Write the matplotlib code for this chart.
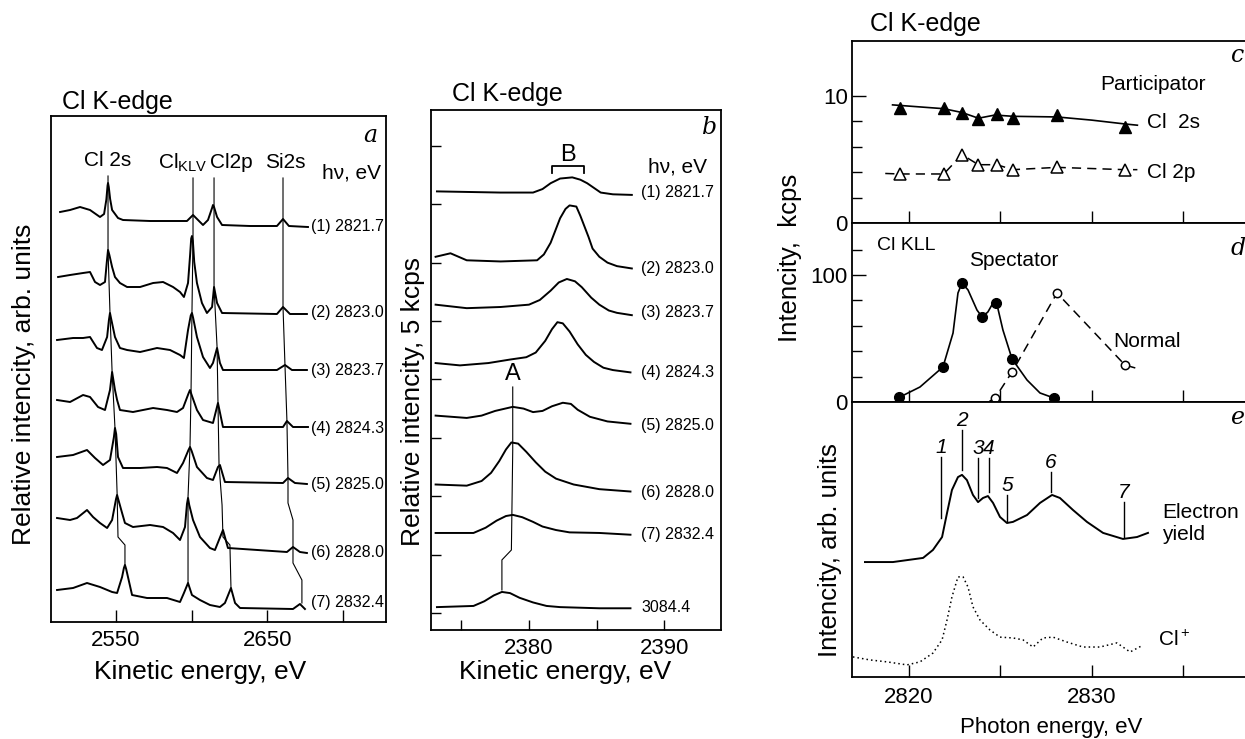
import matplotlib
matplotlib.use('Agg')
import matplotlib.pyplot as plt

plt.rcParams['font.family'] = ['Liberation Sans', 'DejaVu Sans']
plt.rcParams['mathtext.fontset'] = 'custom'
plt.rcParams['mathtext.rm'] = 'Liberation Sans'
plt.rcParams['mathtext.it'] = 'Liberation Sans:italic'

W, H = 1245, 739

# ---- panel a: resonant Auger spectra, stacked (arb. units) ----
a_hv = ['(1) 2821.7', '(2) 2823.0', '(3) 2823.7', '(4) 2824.3',
        '(5) 2825.0', '(6) 2828.0', '(7) 2832.4']
a_energy = [
    [2513.0, 2519.6, 2526.2, 2532.8, 2539.4, 2542.1, 2543.6, 2544.4, 2544.7, 2545.2, 2546.1, 2547.4,
     2551.3, 2554.6, 2572.5, 2596.9, 2600.9, 2604.2, 2607.5, 2610.8, 2613.5, 2614.1, 2614.8, 2616.8,
     2620.1, 2638.6, 2656.4, 2660.4, 2664.3, 2676.9],
    [2511.7, 2519.6, 2528.2, 2532.8, 2536.1, 2539.4, 2542.7, 2543.9, 2544.7, 2545.6, 2547.4, 2549.3,
     2552.6, 2557.3, 2565.9, 2574.5, 2581.1, 2587.7, 2592.3, 2594.9, 2597.6, 2599.0, 2599.7, 2600.2,
     2600.8, 2601.7, 2603.5, 2606.8, 2610.1, 2613.5, 2614.8, 2616.8, 2620.1, 2656.4, 2660.4, 2665.0,
     2676.2],
    [2511.0, 2521.6, 2528.2, 2532.8, 2537.4, 2540.7, 2544.1, 2545.3, 2546.0, 2546.8, 2549.3, 2552.6,
     2557.3, 2565.9, 2577.1, 2585.7, 2592.3, 2594.9, 2597.6, 2599.4, 2600.2, 2601.0, 2603.5, 2607.5,
     2612.1, 2614.1, 2616.8, 2618.7, 2620.7, 2656.4, 2661.7, 2666.3, 2676.2],
    [2511.0, 2519.6, 2528.2, 2532.8, 2538.1, 2542.7, 2546.0, 2547.4, 2549.3, 2550.7, 2552.6, 2561.2,
     2574.5, 2583.7, 2590.3, 2594.3, 2597.8, 2598.9, 2600.0, 2603.5, 2607.5, 2614.1, 2617.4, 2620.7,
     2660.4, 2663.0, 2667.0, 2676.9],
    [2511.0, 2521.6, 2530.8, 2536.1, 2541.4, 2546.0, 2548.6, 2549.3, 2550.1, 2551.3, 2554.6, 2565.9,
     2577.1, 2583.7, 2590.3, 2594.3, 2597.9, 2598.9, 2600.0, 2603.5, 2610.1, 2614.1, 2617.4, 2618.7,
     2622.0, 2660.4, 2663.7, 2668.3, 2676.2],
    [2511.0, 2519.6, 2524.2, 2530.8, 2534.8, 2539.4, 2544.1, 2547.4, 2550.0, 2550.7, 2551.6, 2554.0,
     2555.9, 2561.2, 2572.5, 2581.1, 2587.7, 2592.3, 2595.6, 2596.9, 2597.6, 2598.4, 2600.9, 2605.5,
     2612.1, 2615.4, 2620.7, 2624.0, 2663.0, 2667.0, 2671.6, 2676.2],
    [2511.0, 2521.6, 2530.8, 2539.4, 2547.4, 2550.7, 2554.0, 2555.2, 2555.9, 2556.7, 2557.9, 2560.6,
     2570.5, 2583.7, 2592.3, 2594.9, 2597.6, 2600.2, 2605.5, 2612.1, 2618.7, 2622.0, 2626.0, 2628.7,
     2632.0, 2667.0, 2671.6, 2674.9],
]
a_int = [
    [82.0, 82.4, 83.0, 82.4, 81.0, 81.6, 84.5, 87.3, 87.8, 87.0, 84.6, 82.4,
     80.8, 80.4, 80.2, 80.2, 81.4, 80.4, 79.4, 80.4, 82.8, 83.4, 83.0, 81.0,
     79.4, 79.2, 79.2, 80.6, 79.2, 79.0],
    [69.0, 69.4, 69.8, 70.0, 68.0, 67.4, 68.0, 72.0, 74.4, 73.4, 71.0, 69.0,
     67.8, 67.0, 67.0, 67.8, 68.0, 67.0, 66.0, 65.0, 67.8, 73.5, 76.7, 77.2,
     76.2, 72.0, 67.8, 63.8, 61.8, 63.0, 67.0, 63.8, 61.8, 61.6, 63.0, 61.6,
     61.6],
    [56.4, 56.8, 56.8, 57.0, 54.8, 54.4, 57.0, 60.4, 61.8, 60.6, 57.0, 54.8,
     54.4, 54.0, 54.8, 54.4, 53.4, 52.8, 58.4, 61.3, 61.8, 60.8, 57.0, 53.0,
     50.8, 51.8, 54.8, 51.8, 50.4, 50.4, 51.4, 50.4, 50.4],
    [44.4, 44.0, 45.4, 45.0, 43.0, 42.4, 46.4, 50.0, 46.4, 44.4, 42.4, 42.0,
     42.8, 42.4, 42.0, 42.8, 45.6, 46.4, 45.4, 42.4, 40.4, 39.8, 43.8, 39.0,
     39.0, 40.2, 39.0, 39.0],
    [33.0, 33.4, 34.4, 32.8, 31.4, 32.4, 37.0, 38.8, 37.6, 33.0, 30.8, 30.8,
     31.0, 30.8, 29.8, 31.8, 34.4, 35.0, 34.2, 31.0, 28.8, 28.4, 31.0, 31.4,
     28.0, 27.8, 28.8, 27.8, 27.6],
    [20.8, 20.4, 20.8, 22.4, 21.0, 19.8, 18.8, 20.4, 24.6, 25.4, 24.4, 21.8,
     19.8, 19.0, 19.4, 19.0, 17.8, 16.4, 19.0, 23.6, 24.8, 23.4, 20.4, 17.0,
     14.8, 14.4, 18.4, 14.8, 14.0, 15.0, 14.0, 13.8],
    [6.4, 6.8, 7.8, 7.0, 6.0, 5.8, 9.0, 10.8, 11.4, 10.6, 9.0, 5.4,
     4.8, 4.8, 4.0, 5.8, 7.8, 5.4, 4.4, 3.4, 3.0, 3.8, 6.8, 3.8,
     2.8, 2.6, 3.6, 2.6],
]
# peak guide lines in panel a
a_guide_energy = [
    [2544.7, 2544.7, 2546.0, 2547.4, 2549.3, 2550.7, 2551.3, 2555.9, 2555.9],
    [2600.9, 2600.9, 2600.2, 2599.6, 2598.9, 2597.6, 2597.6],
    [2614.8, 2614.8, 2614.8, 2616.8, 2617.4, 2618.1, 2620.1, 2620.7, 2625.3, 2626.0],
    [2660.4, 2660.4, 2660.4, 2661.7, 2663.0, 2663.7, 2663.7, 2667.0, 2667.0, 2672.9, 2672.9],
]
a_guide_int = [
    [89.2, 74.4, 61.8, 50.0, 38.8, 25.8, 17.0, 15.4, 11.4],
    [88.8, 77.2, 61.8, 46.4, 35.0, 25.0, 7.8],
    [88.8, 83.4, 67.0, 55.0, 44.0, 31.4, 23.4, 17.0, 15.4, 6.8],
    [88.8, 80.6, 63.0, 51.4, 40.2, 28.8, 23.8, 20.4, 11.8, 8.4, 3.8],
]

# ---- panel b: Cl KLL region, stacked (kcps) ----
b_hv = ['(1) 2821.7', '(2) 2823.0', '(3) 2823.7', '(4) 2824.3',
        '(5) 2825.0', '(6) 2828.0', '(7) 2832.4', '3084.4']
b_energy = [
    [2373.2, 2377.9, 2380.3, 2381.0, 2381.6, 2382.3, 2383.2, 2383.8, 2384.3, 2384.8, 2385.3, 2386.2, 2387.6],
    [2373.1, 2374.2, 2375.4, 2377.9, 2380.6, 2381.1, 2381.6, 2382.0, 2382.3, 2382.7, 2383.0, 2383.5,
     2383.8, 2384.0, 2384.4, 2384.7, 2385.2, 2385.8, 2386.5, 2387.6],
    [2373.1, 2375.4, 2377.9, 2380.0, 2380.8, 2381.6, 2382.2, 2382.8, 2383.4, 2383.9, 2384.6, 2385.2,
     2385.9, 2386.5, 2387.6],
    [2373.1, 2374.9, 2377.0, 2378.6, 2379.8, 2380.5, 2381.2, 2381.7, 2382.1, 2382.5, 2383.0, 2383.6,
     2384.2, 2384.8, 2385.5, 2386.2, 2387.5],
    [2373.1, 2375.4, 2376.5, 2377.5, 2378.8, 2379.6, 2380.3, 2381.0, 2381.7, 2382.5, 2383.1, 2383.6,
     2384.5, 2385.8, 2387.5],
    [2373.1, 2375.4, 2376.5, 2377.2, 2377.8, 2378.3, 2378.7, 2379.2, 2379.8, 2380.5, 2381.2, 2382.0,
     2383.3, 2385.2, 2387.5],
    [2373.1, 2375.9, 2376.8, 2377.6, 2378.3, 2378.8, 2379.5, 2380.3, 2381.0, 2382.0, 2383.0, 2385.2, 2387.5],
    [2373.2, 2375.9, 2376.7, 2377.4, 2378.0, 2378.6, 2379.3, 2380.3, 2381.3, 2382.3, 2385.2, 2387.5],
]
b_counts = [
    [36.1, 36.0, 36.0, 36.3, 36.8, 37.2, 37.3, 37.1, 36.8, 36.4, 36.0, 35.85, 35.8],
    [30.5, 30.8, 30.2, 30.1, 30.2, 30.7, 31.7, 32.9, 33.8, 34.6, 34.9, 34.8,
     34.0, 33.4, 32.2, 31.2, 30.5, 30.0, 29.7, 29.5],
    [26.4, 26.1, 26.2, 26.4, 26.8, 27.6, 28.3, 28.6, 28.4, 27.9, 27.0, 26.4,
     25.9, 25.7, 25.5],
    [21.4, 21.2, 21.4, 21.7, 21.9, 22.3, 23.3, 24.3, 24.9, 24.8, 24.1, 23.0,
     22.1, 21.5, 21.0, 20.8, 20.6],
    [16.9, 16.7, 16.9, 17.3, 17.65, 17.5, 17.2, 17.3, 17.7, 18.0, 17.9, 17.4,
     16.8, 16.4, 16.2],
    [11.0, 10.9, 11.3, 12.0, 13.0, 14.0, 14.6, 14.5, 13.8, 12.9, 12.1, 11.5,
     11.0, 10.6, 10.4],
    [6.85, 6.85, 7.3, 7.9, 8.3, 8.4, 8.2, 7.8, 7.4, 7.1, 6.9, 6.85, 6.7],
    [0.5, 0.6, 1.0, 1.5, 1.8, 1.7, 1.3, 0.9, 0.6, 0.5, 0.4, 0.4],
]
b_guide_energy = [2378.8, 2378.8, 2378.7, 2378.0, 2378.0]
b_guide_counts = [19.35, 13.96, 5.39, 4.54, 1.97]
b_bracket_energy = [2381.7, 2381.7, 2384.1, 2384.1]
b_bracket_counts = [37.67, 38.27, 38.27, 37.67]

# ---- panel c: participator intensities (kcps) ----
c_hv = [2819.5, 2821.9, 2822.9, 2823.8, 2824.8, 2825.7, 2828.1, 2831.8]
c_2s = [9.03, 9.03, 8.64, 8.19, 8.58, 8.24, 8.5, 7.58]
c_2p = [3.86, 3.86, 5.38, 4.59, 4.59, 4.2, 4.38, 4.2]
c_2s_fit_hv = [2819.1, 2821.9, 2822.9, 2823.8, 2824.7, 2825.7, 2828.1, 2830.0, 2831.8, 2832.5]
c_2s_fit = [9.3, 9.0, 8.7, 8.25, 8.5, 8.4, 8.35, 8.1, 7.8, 7.7]
c_2p_line_hv = [2818.7] + c_hv + [2832.5]
c_2p_line = [3.9] + c_2p + [4.2]

# ---- panel d: Cl KLL spectator / normal (kcps) ----
d_spec_hv = [2819.45, 2821.86, 2822.9, 2824.0, 2824.76, 2825.64, 2827.94]
d_spec = [3.9, 27.6, 93.7, 66.9, 78.0, 33.9, 3.1]
d_spec_line_hv = [2819.5, 2820.6, 2821.86, 2822.41, 2822.68, 2822.9, 2823.23, 2823.72, 2824.0,
                  2824.32, 2824.6, 2824.82, 2825.14, 2825.64, 2826.46, 2827.17, 2827.94]
d_spec_line = [3.9, 11.8, 27.6, 54.3, 85.8, 93.7, 88.2, 72.4, 66.9,
               70.9, 78.0, 76.4, 56.7, 33.9, 17.3, 7.1, 3.1]
d_norm_hv = [2824.71, 2825.64, 2828.1, 2831.82]
d_norm = [3.1, 23.6, 85.8, 29.1]
d_norm_line_hv = [2824.4] + d_norm_hv + [2832.46]
d_norm_line = [0.5] + d_norm + [26.5]

# ---- panel e: electron yield and Cl+ yield (arb. units) ----
e_ey_hv = [2817.59, 2819.12, 2820.77, 2821.31, 2821.81, 2822.08, 2822.35, 2822.68, 2822.9, 2823.17,
           2823.5, 2823.78, 2824.05, 2824.32, 2824.6, 2824.98, 2825.36, 2825.69, 2826.46, 2827.17,
           2827.83, 2828.26, 2828.98, 2829.74, 2830.62, 2831.71, 2832.48, 2833.08]
e_ey = [41.8, 41.8, 43.3, 46.2, 50.9, 59.6, 68.0, 72.7, 73.5, 71.6,
        66.2, 63.6, 65.1, 65.8, 63.3, 58.2, 56.0, 56.4, 58.9, 63.3,
        66.2, 65.1, 60.7, 56.4, 52.4, 50.2, 50.9, 52.4]
e_ion_hv = [2816.93, 2817.87, 2818.8, 2819.89, 2820.6, 2821.31, 2821.81, 2822.08, 2822.35, 2822.68,
            2822.96, 2823.23, 2823.5, 2823.89, 2824.43, 2824.98, 2825.69, 2826.24, 2826.79, 2827.33,
            2827.88, 2828.65, 2829.52, 2830.45, 2831.38, 2832.1, 2832.81]
e_ion = [7.3, 6.2, 5.5, 4.4, 5.5, 8.7, 13.5, 20.7, 29.1, 36.4,
         36.4, 32.7, 25.5, 20.7, 17.1, 14.5, 14.2, 13.5, 10.9, 14.2,
         14.5, 12.7, 10.9, 10.9, 12.4, 9.1, 11.6]
e_mark_labels = ['1', '2', '3', '4', '5', '6', '7']
e_mark_hv = [2821.75, 2822.9, 2823.78, 2824.38, 2825.36, 2827.77, 2831.77]
e_mark_top = [80.0, 89.8, 79.6, 79.6, 66.2, 74.5, 63.6]
e_mark_bottom = [57.8, 75.3, 65.1, 67.3, 56.4, 67.3, 50.9]


fig = plt.figure(figsize=(12.45, 7.39), dpi=100)


def box(l, t, r, b):
    return [l / W, 1 - b / H, (r - l) / W, (b - t) / H]


def put(x, y, s, **kw):
    kw.setdefault('ha', 'left')
    kw.setdefault('va', 'center')
    fig.text(x / W, 1 - y / H, s, **kw)


def style(ax, lw=1.3):
    for sp in ax.spines.values():
        sp.set_linewidth(lw)


letter = dict(family='DejaVu Serif', style='italic', fontsize=17)

# panel a
ax_a = fig.add_axes(box(51, 116, 386, 622))
for e, v in zip(a_energy, a_int):
    ax_a.plot(e, v, color='k', lw=1.4)
for e, v in zip(a_guide_energy, a_guide_int):
    ax_a.plot(e, v, color='k', lw=0.8)
ax_a.set_xlim(2507, 2728.5)
ax_a.set_ylim(0, 101.2)
ax_a.set_xticks([2550, 2600, 2650, 2700])
ax_a.set_xticklabels(['2550', '', '2650', ''])
ax_a.set_yticks([])
ax_a.tick_params(axis='x', direction='in', length=9, width=1, labelsize=16, pad=6)
style(ax_a)

put(62, 102, 'Cl K-edge', fontsize=18)
put(108, 160, 'Cl 2s', fontsize=15, ha='center')
put(158, 163, r'Cl$_{\rm KLV}$', fontsize=15)
put(210, 162, 'Cl2p', fontsize=15)
put(285, 162, 'Si2s', fontsize=15, ha='center')
put(322, 173, 'hν, eV', fontsize=15)
put(370, 135, 'a', ha='center', **letter)
for lab, y in zip(a_hv, [227, 313, 370, 428, 485, 552, 603]):
    put(311, y, lab, fontsize=11.5)
put(24, 384, 'Relative intencity, arb. units', fontsize=19, rotation=90, ha='center')
put(200, 672, 'Kinetic energy, eV', fontsize=19, ha='center')

# panel b
ax_b = fig.add_axes(box(431, 110, 721, 630))
for e, v in zip(b_energy, b_counts):
    ax_b.plot(e, v, color='k', lw=1.4)
ax_b.plot(b_guide_energy, b_guide_counts, color='k', lw=0.8)
ax_b.plot(b_bracket_energy, b_bracket_counts, color='k', lw=1.3)
ax_b.set_xlim(2372.76, 2394.19)
ax_b.set_ylim(-1.46, 43.07)
ax_b.set_xticks([2375, 2380, 2385, 2390])
ax_b.set_xticklabels(['', '2380', '', '2390'])
ax_b.set_yticks(range(0, 41, 5))
ax_b.set_yticklabels([])
ax_b.tick_params(direction='in', length=7, width=1, labelsize=16, pad=6)
style(ax_b)

put(452, 94, 'Cl K-edge', fontsize=18)
put(568, 155, 'B', fontsize=17, ha='center')
put(513, 374, 'A', fontsize=17, ha='center')
put(648, 167, 'hν, eV', fontsize=15)
put(710, 127, 'b', ha='center', **letter)
for lab, y in zip(b_hv, [193, 268, 313, 372, 425, 492, 535, 607]):
    put(641, y, lab, fontsize=11.5)
put(413, 401, 'Relative intencity, 5 kcps', fontsize=19, rotation=90, ha='center')
put(565, 672, 'Kinetic energy, eV', fontsize=19, ha='center')

# panels c, d, e
xl = (2816.88, 2838.39)
ax_c = fig.add_axes(box(852, 41, 1245, 223))
ax_d = fig.add_axes(box(852, 223, 1245, 402))
ax_e = fig.add_axes(box(852, 402, 1245, 677))
for ax in (ax_c, ax_d, ax_e):
    ax.set_xlim(*xl)
    ax.spines['right'].set_visible(False)
    ax.set_xticks([2820, 2825, 2830, 2835])
    ax.tick_params(axis='x', direction='in', length=9, width=1, labelsize=16, pad=7, top=False)
    style(ax)
ax_c.set_xticklabels([])
ax_d.set_xticklabels([])
ax_e.set_xticklabels(['2820', '', '2830', ''])

ax_c.plot(c_2s_fit_hv, c_2s_fit, color='k', lw=1.2)
ax_c.plot(c_hv, c_2s, '^', color='k', ms=8)
ax_c.plot(c_2p_line_hv, c_2p_line, color='k', lw=1.1, dashes=(6, 4))
ax_c.plot(c_hv, c_2p, '^', mfc='white', mec='k', mew=1.1, ms=8)
ax_c.set_ylim(0, 14.33)
ax_c.set_yticks([0, 10])
ax_c.set_yticks([2, 4, 6, 8], minor=True)
ax_c.tick_params(axis='y', which='major', direction='in', length=10, width=1, labelsize=16, pad=3)
ax_c.tick_params(axis='y', which='minor', direction='in', length=7, width=1)

ax_d.plot(d_spec_line_hv, d_spec_line, color='k', lw=1.2)
ax_d.plot(d_spec_hv, d_spec, 'o', color='k', ms=7)
ax_d.plot(d_norm_line_hv, d_norm_line, color='k', lw=1.1, dashes=(6, 4))
ax_d.plot(d_norm_hv, d_norm, 'o', mfc='white', mec='k', mew=1.1, ms=6)
ax_d.set_ylim(0, 140.9)
ax_d.set_yticks([0, 100])
ax_d.set_yticks([20, 40, 60, 80, 120], minor=True)
ax_d.tick_params(axis='y', which='major', direction='in', length=10, width=1, labelsize=16, pad=3)
ax_d.tick_params(axis='y', which='minor', direction='in', length=7, width=1)

ax_e.plot(e_ey_hv, e_ey, color='k', lw=1.4)
ax_e.plot(e_ion_hv, e_ion, color='k', lw=1.1, linestyle=(0, (1, 2)))
for lab, x, t, b in zip(e_mark_labels, e_mark_hv, e_mark_top, e_mark_bottom):
    ax_e.plot([x, x], [b, t], color='k', lw=1)
    ax_e.text(x, t, lab, ha='center', va='bottom', fontsize=15, style='italic')
ax_e.set_ylim(0, 100)
ax_e.set_yticks([])

put(870, 24, 'Cl K-edge', fontsize=18)
put(1100, 85, 'Participator', fontsize=15)
put(1147, 122, 'Cl  2s', fontsize=15)
put(1147, 172, 'Cl 2p', fontsize=15)
put(877, 245, 'Cl KLL', fontsize=14)
put(1014, 260, 'Spectator', fontsize=15, ha='center')
put(1113, 342, 'Normal', fontsize=15)
put(1162, 512, 'Electron', fontsize=15)
put(1162, 535, 'yield', fontsize=15)
put(1158, 640, r'Cl$^+$', fontsize=15)
put(1238, 55, 'c', ha='center', **letter)
put(1238, 248, 'd', ha='center', **letter)
put(1238, 417, 'e', ha='center', **letter)
put(790, 258, 'Intencity,  kcps', fontsize=18.5, rotation=90, ha='center')
put(830, 550, 'Intencity, arb. units', fontsize=18.5, rotation=90, ha='center')
put(1051, 727, 'Photon energy, eV', fontsize=16, ha='center')

fig.savefig('out.png', dpi=100)
